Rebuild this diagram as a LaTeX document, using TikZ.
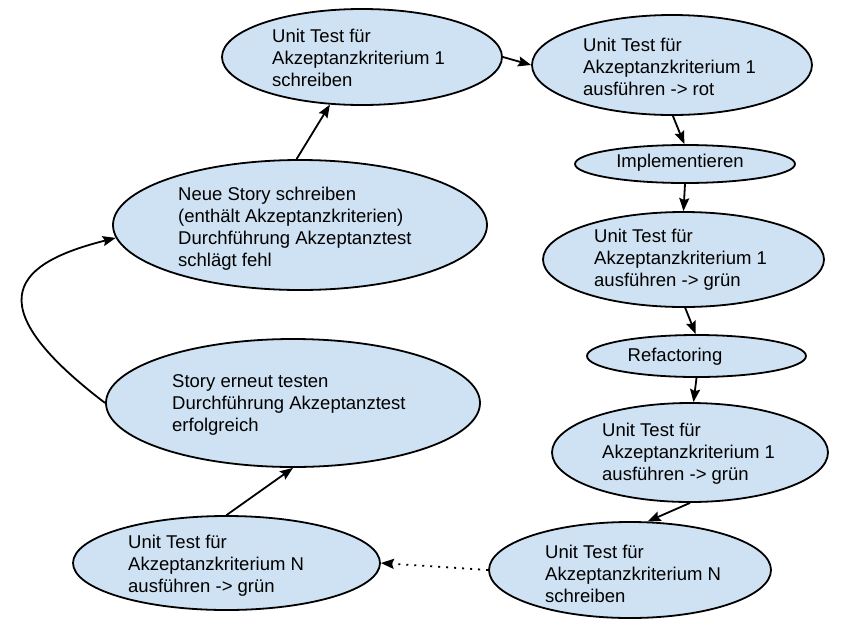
\documentclass[tikz,border=0pt]{standalone}
\usepackage{fontspec}
\setmainfont{Liberation Sans}
\usetikzlibrary{shapes.geometric,arrows.meta}
\definecolor{bubblefill}{HTML}{CFE2F3}
\begin{document}
\begin{tikzpicture}[x=1pt,y=-1pt,
  bubble/.style={ellipse,draw=black,line width=1.8pt,fill=bubblefill,inner sep=0pt},
  txt/.style={align=left,anchor=west,inner sep=0pt,font=\fontsize{18.5}{22}\selectfont},
  link/.style={line width=1.8pt,-{Stealth[length=13pt,width=10pt,inset=2pt]}}]

  \useasboundingbox (0,0) rectangle (841,625);

  % draw ellipses
  \node[bubble,minimum width=280,minimum height=96] (e1) at (362,57) {};
  \node[bubble,minimum width=280,minimum height=100] (e2) at (672,65) {};
  \node[bubble,minimum width=220,minimum height=38] (e3) at (685,164) {};
  \node[bubble,minimum width=281,minimum height=95] (e4) at (683.5,259.5) {};
  \node[bubble,minimum width=219,minimum height=42] (e5) at (696.5,356) {};
  \node[bubble,minimum width=276,minimum height=99] (e6) at (690,452.5) {};
  \node[bubble,minimum width=282,minimum height=96] (e7) at (630,570) {};
  \node[bubble,minimum width=307,minimum height=94] (e8) at (226.5,563) {};
  \node[bubble,minimum width=374,minimum height=128] (e9) at (293,403) {};
  \node[bubble,minimum width=374,minimum height=130] (e10) at (300,225) {};

  % texts
  \node[txt] (t1) at (272,58) {Unit Test für\\Akzeptanzkriterium 1\\schreiben};
  \node[txt] (t2) at (583,67) {Unit Test für\\Akzeptanzkriterium 1\\ausführen -> rot};
  \node[txt,anchor=center] (t3) at (680,163) {Implementieren};
  \node[txt] (t4) at (594,260) {Unit Test für\\Akzeptanzkriterium 1\\ausführen -> grün};
  \node[txt,anchor=center] (t5) at (675,357) {Refactoring};
  \node[txt] (t6) at (602,454) {Unit Test für\\Akzeptanzkriterium 1\\ausführen -> grün};
  \node[txt] (t7) at (545,574) {Unit Test für\\Akzeptanzkriterium N\\schreiben};
  \node[txt] (t8) at (128,566) {Unit Test für\\Akzeptanzkriterium N\\ausführen -> grün};
  \node[txt] (t9) at (172,405) {Story erneut testen\\Durchführung Akzeptanztest\\erfolgreich};
  \node[txt] (t10) at (178,229) {Neue Story schreiben\\(enthält Akzeptanzkriterien)\\Durchführung Akzeptanztest\\schlägt fehl};

  % arrows
  \draw[link] (e10.93) -- (e1.236);
  \draw[link] (e1.0) -- (e2.180);
  \draw[link] (e2.271) -- (e3.92);
  \draw[link] (e3.270) -- (e4.90);
  \draw[link] (e4.-88) -- (e5.92);
  \draw[link] (e5.270) -- (e6.86.5);
  \draw[link] (e6.270) -- (e7.70.5);
  \draw[link,dash pattern=on 2pt off 6pt] (e7.180) -- (e8.0);
  \draw[link] (e8.90) -- (e9.270);
  \draw[link] (e9.180) .. controls (-30,300) and (20,262) .. (e10.184);
\end{tikzpicture}
\end{document}
